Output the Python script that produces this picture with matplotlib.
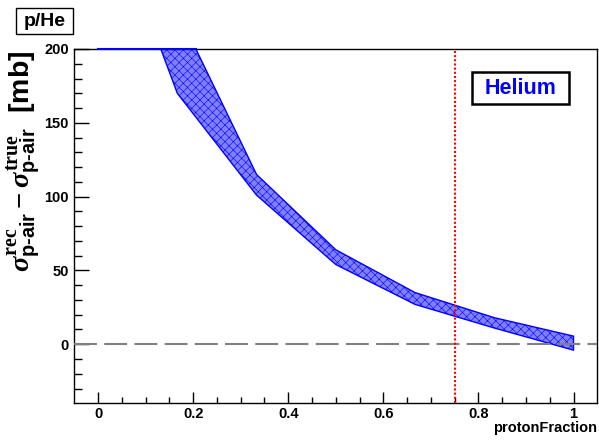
import numpy as np
import matplotlib
matplotlib.use("Agg")
import matplotlib.pyplot as plt
from matplotlib.patches import Rectangle

plt.rcParams['font.family'] = ['Liberation Sans', 'DejaVu Sans']
plt.rcParams['font.weight'] = 'bold'
plt.rcParams['mathtext.fontset'] = 'custom'
plt.rcParams['mathtext.rm'] = 'Liberation Serif:bold'
plt.rcParams['mathtext.it'] = 'Liberation Serif:italic:bold'
plt.rcParams['mathtext.sf'] = 'Liberation Sans'
plt.rcParams['hatch.linewidth'] = 0.4

# band of reconstructed - true cross-section vs proton fraction
proton_fraction = np.array([0.0, 1/6, 1/3, 1/2, 2/3, 5/6, 1.0])
band_upper = np.array([340.0, 226.0, 115.0, 64.0, 35.0, 18.0, 5.5])
band_lower = np.array([314.0, 170.0, 101.0, 54.0, 27.0, 11.0, -4.0])
chosen_fraction = 0.75

ymin, ymax = -40, 200

fig = plt.figure(figsize=(5.99, 4.40), dpi=100)
W, H = 599, 440
ax = fig.add_axes([74.3 / W, 1 - 403.3 / H, (597.3 - 74.3) / W, (403.3 - 49) / H])

# checkerboard-like fill: mid blue with fine hatch, blue outline
ax.fill_between(proton_fraction, band_lower, band_upper, facecolor='#8080ff',
                edgecolor='blue', hatch='xxxx', linewidth=1.0, zorder=2)
# ROOT draws the clipped part of the band along the frame
x_cross = np.interp(-ymax, -band_upper, proton_fraction)
ax.plot([proton_fraction[0], x_cross], [ymax, ymax], color='blue', lw=1.5,
        clip_on=False, zorder=5)

ax.axhline(0, color='#808080', lw=1.5, linestyle=(0, (11, 3.5)), zorder=3)
ax.axvline(chosen_fraction, color='red', lw=1.5, linestyle=(0, (1, 1)), zorder=4)

ax.set_xlim(-0.05, 1.05)
ax.set_ylim(ymin, ymax)
ax.set_xticks([0, 0.2, 0.4, 0.6, 0.8, 1.0])
ax.set_xticklabels(['0', '0.2', '0.4', '0.6', '0.8', '1'])
ax.set_xticks(np.arange(0, 1.0001, 0.05), minor=True)
ax.set_yticks([0, 50, 100, 150, 200])
ax.set_yticks(np.arange(-30, 200, 10), minor=True)
ax.tick_params(axis='both', which='both', direction='in', labelsize=10.5, width=1.0)
ax.tick_params(axis='y', which='major', length=10.8, pad=4)
ax.tick_params(axis='y', which='minor', length=5.5)
ax.tick_params(axis='x', which='major', length=7.7, pad=3)
ax.tick_params(axis='x', which='minor', length=4.3)
for s in ax.spines.values():
    s.set_linewidth(1.0)

fig.text(597 / W, 1 - 428 / H, 'protonFraction', ha='right', va='center',
         fontsize=10.5, fontweight='bold')

ylabel = (r'$\sigma^{\mathrm{rec}}_{\mathsf{p\text{-}air}} - '
          r'\sigma^{\mathrm{true}}_{\mathsf{p\text{-}air}}$  [mb]')
fig.text(24 / W, 1 - 50 / H, ylabel, rotation=90, ha='center', va='top',
         fontsize=20.5, fontweight='bold')

# legend box
fig.patches.append(Rectangle((472 / W, 1 - 104 / H), 97 / W, 32 / H,
                             transform=fig.transFigure, facecolor='white',
                             edgecolor='black', lw=1.8, zorder=6))
fig.text(521 / W, 1 - 88 / H, 'Helium', ha='center', va='center', fontsize=15.5,
         fontweight='bold', color='blue', zorder=7)

# title box
fig.patches.append(Rectangle((16 / W, 1 - 34 / H), 57 / W, 26 / H,
                             transform=fig.transFigure, facecolor='white',
                             edgecolor='black', lw=1.0, zorder=6))
fig.text(44.5 / W, 1 - 21 / H, 'p/He', ha='center', va='center', fontsize=14,
         fontweight='bold', color='black', zorder=7)

fig.savefig('out.png', dpi=100)
